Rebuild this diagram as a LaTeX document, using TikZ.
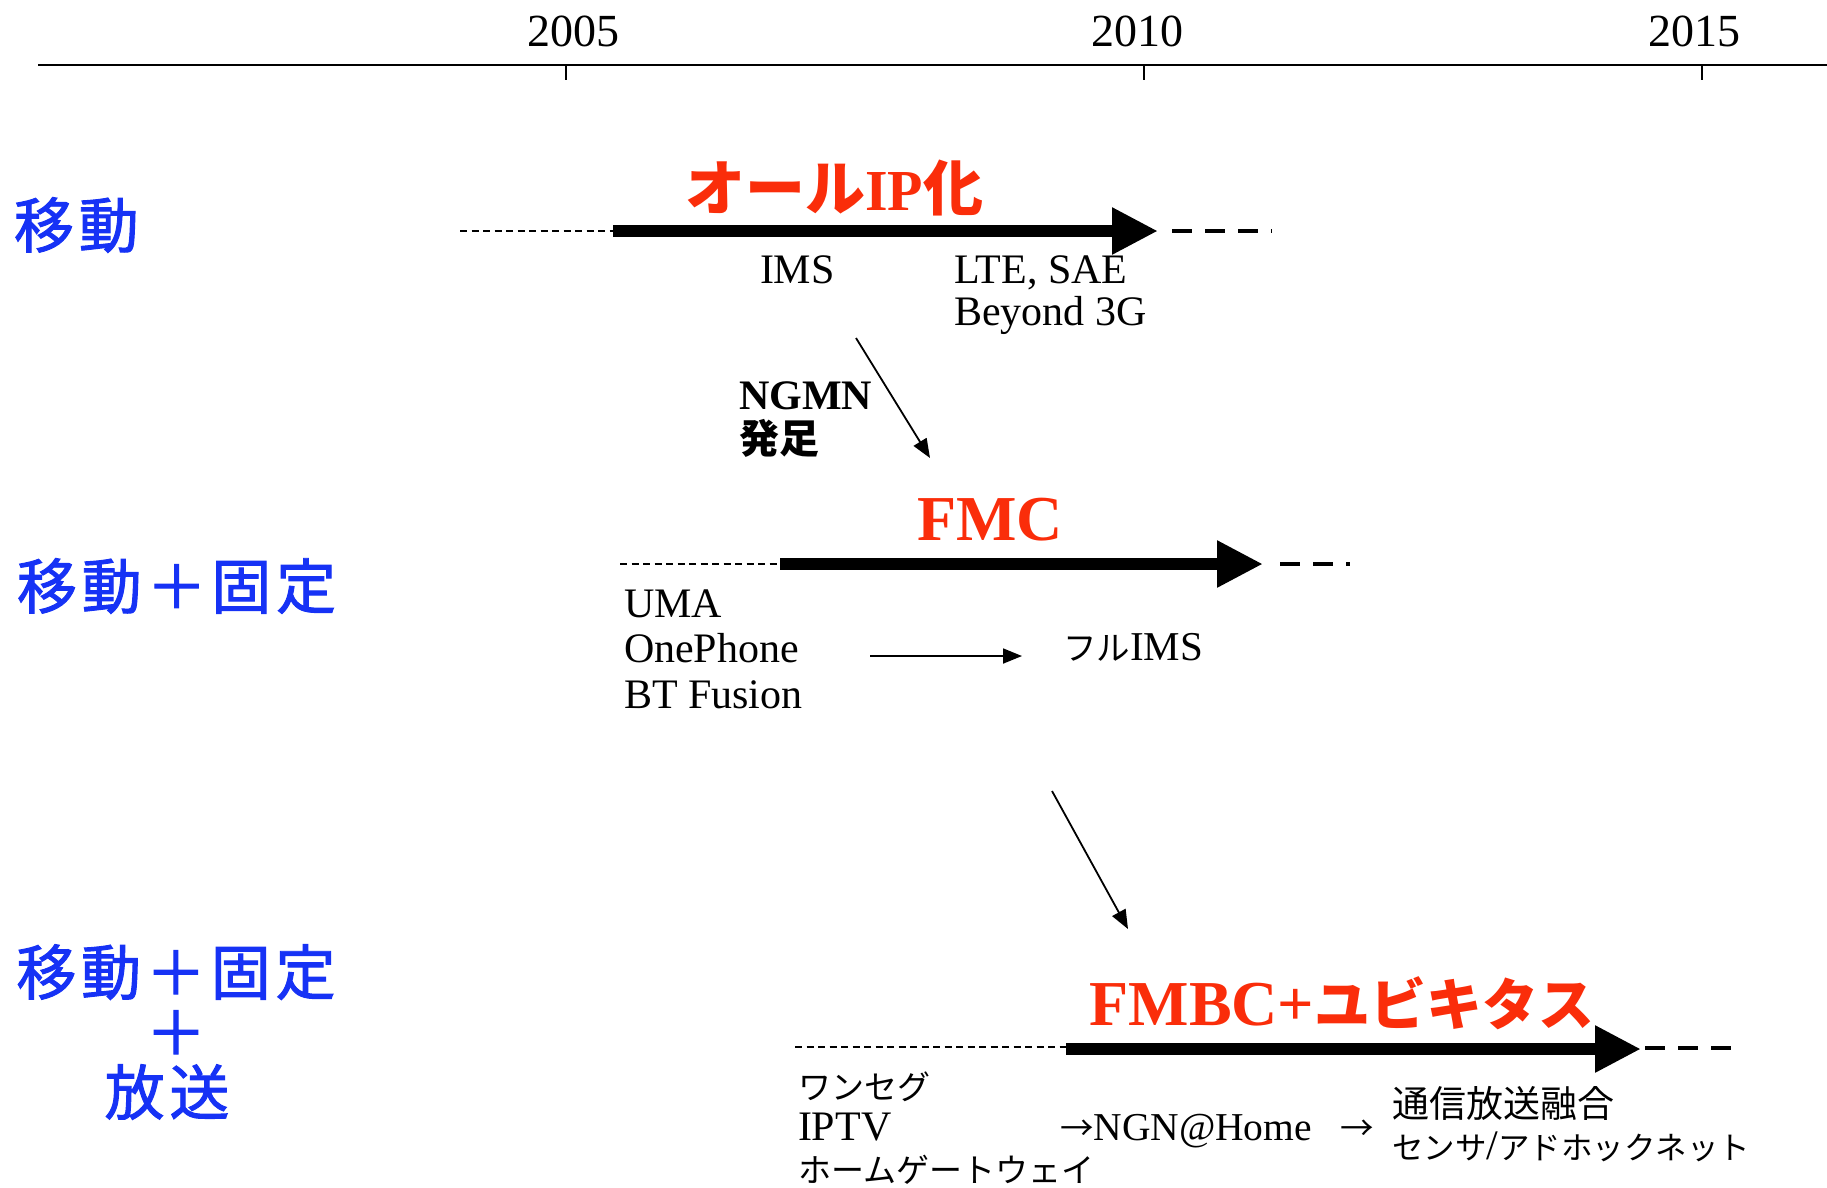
\documentclass[tikz,border=0pt]{standalone}
\usepackage{fontspec}
\setmainfont{Liberation Serif}
\newfontfamily\jp{Noto Sans CJK JP}
\newfontfamily\jplbl{Noto Sans CJK JP}[FakeBold=1.6,LetterSpace=8]
\usetikzlibrary{arrows.meta}
\definecolor{lblblue}{RGB}{22,50,245}
\definecolor{ttlred}{RGB}{250,45,10}
\newcommand\fs[1]{\fontsize{#1}{#1}\selectfont}
\newcommand\jb[1]{{\jp\fs{33.5}#1}}
\begin{document}
\begin{tikzpicture}[x=1pt,y=-1pt,
  every node/.style={inner sep=0pt,outer sep=0pt},
  axisline/.style={line width=1.8pt},
  tickline/.style={line width=1.3pt},
  year/.style={font=\fs{46},anchor=base},
  lbl/.style={font=\jplbl\fs{60},text=lblblue},
  ttl/.style={font=\bfseries,text=ttlred},
  body/.style={font=\fs{42},anchor=base west},
  bar/.style={line width=12pt,-{Triangle[length=46pt,width=44pt]}},
  thindash/.style={line width=1.5pt,dash pattern=on 7pt off 4.5pt},
  thickdash/.style={line width=4.5pt,dash pattern=on 20pt off 13pt},
  thinarrow/.style={line width=1.8pt,-{Triangle[length=19pt,width=15pt]}}
]
\useasboundingbox (0,0) rectangle (1827,1187);

% time axis
\coordinate (ax0) at (38,65);
\coordinate (ax1) at (1827,65);
\draw[axisline] (ax0) -- (ax1);
\foreach \n/\x in {a/566,b/1144,c/1702}{
  \coordinate (tk\n0) at (\x,65);
  \coordinate (tk\n1) at (\x,80);
  \draw[tickline] (tk\n0) -- (tk\n1);
}
\node[year] (y2005) at (573,46) {2005};
\node[year] (y2010) at (1137,46) {2010};
\node[year] (y2015) at (1694,46) {2015};

% row labels
\node[lbl,anchor=west] (l1) at (14,225) {移動};
\node[lbl,anchor=west] (l2) at (17,586) {移動＋固定};
\node[lbl,align=center] (l3) at (176,1032) {\fontsize{60}{64}\selectfont 移動＋固定\\＋\\放送\hspace*{18pt}};

% ---- row 1
\node[ttl] (t1) at (834,188) {{\jp\bfseries\fs{60}オール}{\fs{58}IP}{\jp\bfseries\fs{60}化}};
\coordinate (d1a) at (460,231);
\coordinate (b1s) at (613,231);
\coordinate (b1e) at (1158,231);
\coordinate (e1a) at (1172,231);
\coordinate (e1b) at (1272,231);
\draw[thindash] (d1a) -- (b1s);
\draw[bar] (b1s) -- (b1e);
\draw[thickdash] (e1a) -- (e1b);
\node[body] (ims) at (760,283) {IMS};
\node[body] (lte) at (954,283) {\vtop{\baselineskip=42pt\hbox{LTE, SAE}\hbox{Beyond 3G}}};

% NGMN
\node[body,font=\bfseries\fs{42}] (ngmn) at (739,409) {\vtop{\baselineskip=44pt\hbox{NGMN}\hbox{\jp\bfseries\fs{40}発足}}};
\coordinate (a1s) at (856,338);
\coordinate (a1e) at (930,458);
\draw[thinarrow] (a1s) -- (a1e);

% ---- row 2
\node[ttl,font=\bfseries\fs{64}] (t2) at (990,520) {FMC};
\coordinate (d2a) at (620,564);
\coordinate (b2s) at (780,564);
\coordinate (b2e) at (1263,564);
\coordinate (e2a) at (1280,564);
\coordinate (e2b) at (1350,564);
\draw[thindash] (d2a) -- (b2s);
\draw[bar] (b2s) -- (b2e);
\draw[thickdash] (e2a) -- (e2b);
\node[body] (uma) at (624,617) {\vtop{\baselineskip=45.5pt\hbox{UMA}\hbox{OnePhone}\hbox{BT Fusion}}};
\coordinate (a2s) at (870,656);
\coordinate (a2e) at (1022,656);
\draw[thinarrow] (a2s) -- (a2e);
\node[body,font=\fs{41}] (fims) at (1063,660) {\jb{フル}IMS};

% arrow row 2 -> row 3
\coordinate (a3s) at (1052,791);
\coordinate (a3e) at (1128,929);
\draw[thinarrow] (a3s) -- (a3e);

% ---- row 3
\node[ttl] (t3) at (1342,1003) {{\fs{64}FMBC+}{\jp\bfseries\fs{56}ユビキタス}};
\coordinate (d3a) at (795,1047);
\coordinate (b3s) at (1066,1049);
\coordinate (b3e) at (1641,1049);
\coordinate (e3a) at (1645,1048);
\coordinate (e3b) at (1735,1048);
\draw[thindash] (d3a) -- (b3s |- d3a);
\draw[bar] (b3s) -- (b3e);
\draw[thickdash] (e3a) -- (e3b);
\node[body] (oneseg) at (798,1099) {\vtop{\baselineskip=41.5pt\hbox{{\jp\fs{33}ワンセグ}}\hbox{IPTV}\hbox{{\jp\fs{33}ホームゲートウェイ}}}};
\node[body,font=\fs{39.5}] (ngn) at (1060,1140) {\jb{→}NGN@Home};
\node[body] (arr) at (1340,1140) {\jb{→}};
\node[body] (conv) at (1392,1117) {\vtop{\baselineskip=42pt\hbox{{\jp\fs{37}通信放送融合}}\hbox{{\jp\fs{31.5}センサ}/{\jp\fs{31.5}アドホックネット}}}};
\end{tikzpicture}
\end{document}
